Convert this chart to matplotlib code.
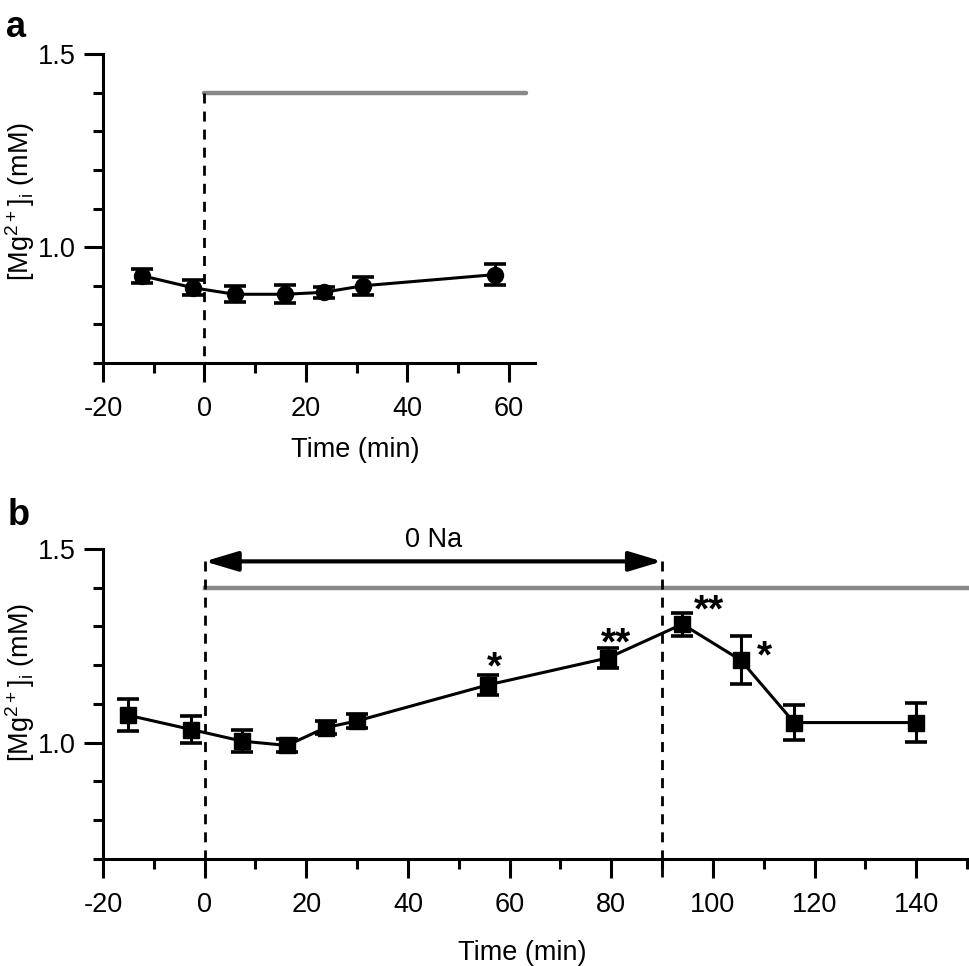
import matplotlib
matplotlib.use("Agg")
import matplotlib.pyplot as plt
from matplotlib.ticker import FixedLocator

plt.rcParams["font.family"] = ["Liberation Sans", "DejaVu Sans"]
plt.rcParams["mathtext.default"] = "regular"

# panel a: time (min), [Mg2+]i (mM), SEM
a_time = [-12.3, -2.3, 6.0, 15.9, 23.5, 31.3, 57.4]
a_mg = [0.926, 0.895, 0.878, 0.878, 0.883, 0.900, 0.929]
a_err = [0.018, 0.019, 0.021, 0.023, 0.015, 0.023, 0.027]

# panel b
b_time = [-15.1, -2.6, 7.4, 16.2, 23.8, 29.9, 55.7, 79.4, 94.0, 105.5, 116.0, 140.0]
b_mg = [1.071, 1.034, 1.004, 0.993, 1.039, 1.056, 1.149, 1.219, 1.306, 1.213, 1.052, 1.052]
b_err = [0.042, 0.034, 0.028, 0.017, 0.016, 0.017, 0.025, 0.025, 0.030, 0.062, 0.045, 0.050]

# significance marks in panel b
star_time = [57.0, 81.0, 99.2, 110.2]
star_text = ["*", "**", "**", "*"]
star_y = [1.165, 1.229, 1.312, 1.195]

# protocol markers
a_bar_end = 63.5
b_bar_end = 150
bar_level = 1.4
na_start, na_end, na_level = 0, 90, 1.468

YLABEL = r"[Mg$^{2+}$]$_{i}$ (mM)"
FS = 19.5
LW = 2.2
DASH = (0, (3.6, 2.9))


def style_axes(ax, xmax, xmajors):
    for side in ("top", "right"):
        ax.spines[side].set_visible(False)
    for side in ("left", "bottom"):
        ax.spines[side].set_linewidth(LW)
    ax.set_xlim(-20, xmax)
    ax.set_ylim(0.7, 1.5)
    ax.xaxis.set_major_locator(FixedLocator(xmajors))
    ax.xaxis.set_minor_locator(FixedLocator([m + 10 for m in xmajors if m + 10 <= xmax]))
    ax.yaxis.set_major_locator(FixedLocator([1.0, 1.5]))
    ax.yaxis.set_minor_locator(FixedLocator([0.7, 0.8, 0.9, 1.1, 1.2, 1.3, 1.4]))
    ax.set_yticklabels(["1.0", "1.5"])
    ax.set_xticklabels([str(m) for m in xmajors])
    ax.tick_params(which="major", length=13.5, width=LW, labelsize=FS)
    ax.tick_params(which="minor", length=7, width=LW)
    ax.tick_params(axis="x", which="major", pad=10)
    ax.tick_params(axis="y", which="major", pad=6)
    ax.set_xlabel("Time (min)", fontsize=FS)
    ax.set_ylabel(YLABEL, fontsize=FS)
    ax.xaxis.label.set_va("center")
    ax.yaxis.label.set_va("center")


fig = plt.figure(figsize=(9.69, 9.66), dpi=100)
ax_a = fig.add_axes([0.1063, 0.6242, 0.4458, 0.3199])
ax_b = fig.add_axes([0.1063, 0.1108, 0.8916, 0.3209])

# ---- panel a
style_axes(ax_a, 65.2, [-20, 0, 20, 40, 60])
ax_a.plot([0, a_bar_end], [bar_level, bar_level], color="#888888", lw=3.2,
          solid_capstyle="round", zorder=1)
ax_a.plot([0, 0], [bar_level, 0.653], color="black", lw=2,
          linestyle=DASH, clip_on=False, zorder=2)
ax_a.errorbar(a_time, a_mg, yerr=a_err, color="black", marker="o", ms=11.5,
              lw=2.2, elinewidth=2.2, capsize=8, capthick=2.6, zorder=3, clip_on=False)
ax_a.xaxis.set_label_coords(0.583, -0.282)
ax_a.yaxis.set_label_coords(-0.192, 0.524)

# ---- panel b
style_axes(ax_b, b_bar_end, [-20, 0, 20, 40, 60, 80, 100, 120, 140])
ax_b.plot([0, b_bar_end], [bar_level, bar_level], color="#888888", lw=3.2,
          zorder=1, clip_on=False)
for xv in (na_start, na_end):
    ax_b.plot([xv, xv], [na_level, 0.653], color="black", lw=2,
              linestyle=DASH, clip_on=False, zorder=2)
ax_b.annotate("", xy=(na_start, na_level), xytext=(na_end, na_level),
              arrowprops=dict(arrowstyle="<|-|>,head_length=1.0,head_width=0.3",
                              color="black", lw=3, shrinkA=0, shrinkB=0,
                              mutation_scale=20),
              annotation_clip=False)
ax_b.text((na_start + na_end) / 2, 1.506, "0 Na", ha="center", va="baseline",
          fontsize=FS, clip_on=False)
ax_b.errorbar(b_time, b_mg, yerr=b_err, color="black", marker="s", ms=11,
              lw=2.2, elinewidth=2.2, capsize=8, capthick=2.6, zorder=3)
for t, s, y in zip(star_time, star_text, star_y):
    ax_b.text(t, y, s, ha="center", va="baseline", fontsize=28, fontweight="bold")
ax_b.xaxis.set_label_coords(0.485, -0.303)
ax_b.yaxis.set_label_coords(-0.096, 0.571)

fig.text(0.006, 1 - 36.7 / 966, "a", fontsize=26, fontweight="bold", va="baseline")
fig.text(0.008, 1 - 525 / 966, "b", fontsize=26, fontweight="bold", va="baseline")

fig.savefig("out.png", dpi=100)
